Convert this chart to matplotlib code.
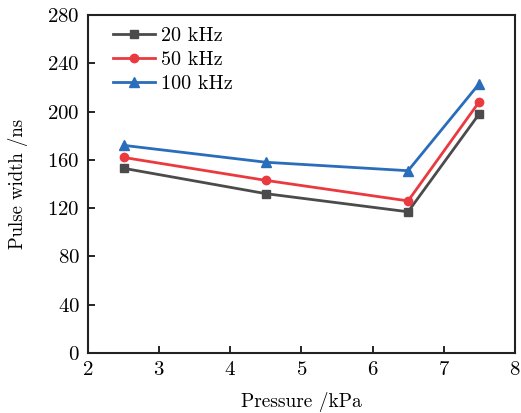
import matplotlib
matplotlib.use("Agg")
import matplotlib.pyplot as plt

# pulse width vs. gas pressure at three repetition rates
pressure = [2.5, 4.5, 6.5, 7.5]
width_20k = [153, 132, 117, 198]
width_50k = [162, 143, 126, 208]
width_100k = [172, 158, 151, 223]
labels = ["20 kHz", "50 kHz", "100 kHz"]

plt.rcParams['font.family'] = ['cmr10', 'DejaVu Serif']
plt.rcParams['axes.formatter.use_mathtext'] = True

fig = plt.figure(figsize=(5.21, 4.13), dpi=100)
ax = fig.add_axes([0.169, 0.145, 0.819, 0.819])

ax.plot(pressure, width_20k, color='#4b4b4b', marker='s', ms=5.5, lw=2, label=labels[0])
ax.plot(pressure, width_50k, color='#ea3a3f', marker='o', ms=6, lw=2, label=labels[1])
ax.plot(pressure, width_100k, color='#2a6dbb', marker='^', ms=7, lw=2, label=labels[2])

ax.set_xlim(2, 8)
ax.set_ylim(0, 280)
ax.set_xticks(range(2, 9))
ax.set_yticks(range(0, 281, 40))
ax.tick_params(direction='in', length=5, width=1.2, labelsize=15, pad=6)
for s in ax.spines.values():
    s.set_linewidth(1.5)
    s.set_color('#222222')

ax.set_xlabel("Pressure /kPa", fontsize=14, labelpad=9)
ax.set_ylabel("Pulse width /ns", fontsize=13.5, labelpad=14)
ax.legend(loc='upper left', frameon=False, fontsize=14.5, handlelength=2.1,
          handletextpad=0.3, labelspacing=0.3, borderaxespad=0.2,
          bbox_to_anchor=(0.03, 1.0))

fig.savefig("out.png", dpi=100)
